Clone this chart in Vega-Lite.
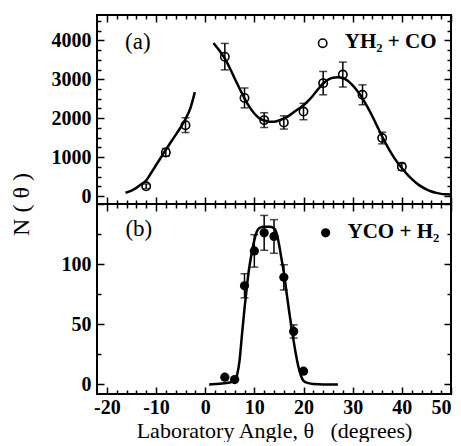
{
  "$schema": "https://vega.github.io/schema/vega-lite/v6.json",
  "padding": {"left": 8, "top": 13, "right": 0, "bottom": 0},
  "spacing": 0,
  "bounds": "flush",
  "datasets": {
    "curveA": [
      {"branch": "L", "angle": -16.2, "n": 85}, {"branch": "L", "angle": -15, "n": 140}, {"branch": "L", "angle": -14, "n": 210},
      {"branch": "L", "angle": -13, "n": 300}, {"branch": "L", "angle": -12, "n": 400}, {"branch": "L", "angle": -11, "n": 590},
      {"branch": "L", "angle": -10, "n": 790}, {"branch": "L", "angle": -9, "n": 990}, {"branch": "L", "angle": -8, "n": 1190},
      {"branch": "L", "angle": -7, "n": 1380}, {"branch": "L", "angle": -6, "n": 1570}, {"branch": "L", "angle": -5, "n": 1760},
      {"branch": "L", "angle": -4, "n": 1980}, {"branch": "L", "angle": -3, "n": 2260}, {"branch": "L", "angle": -2.1, "n": 2670},
      {"branch": "R", "angle": 1.7, "n": 3930}, {"branch": "R", "angle": 2, "n": 3880}, {"branch": "R", "angle": 3, "n": 3720},
      {"branch": "R", "angle": 4, "n": 3530}, {"branch": "R", "angle": 5, "n": 3290}, {"branch": "R", "angle": 6, "n": 3020},
      {"branch": "R", "angle": 7, "n": 2760}, {"branch": "R", "angle": 8, "n": 2510}, {"branch": "R", "angle": 9, "n": 2290},
      {"branch": "R", "angle": 10, "n": 2120}, {"branch": "R", "angle": 11, "n": 2000}, {"branch": "R", "angle": 12, "n": 1940},
      {"branch": "R", "angle": 13, "n": 1910}, {"branch": "R", "angle": 14, "n": 1910}, {"branch": "R", "angle": 15, "n": 1940},
      {"branch": "R", "angle": 16, "n": 1990}, {"branch": "R", "angle": 17, "n": 2060}, {"branch": "R", "angle": 18, "n": 2150},
      {"branch": "R", "angle": 19, "n": 2240}, {"branch": "R", "angle": 20, "n": 2330}, {"branch": "R", "angle": 21, "n": 2450},
      {"branch": "R", "angle": 22, "n": 2590}, {"branch": "R", "angle": 23, "n": 2750}, {"branch": "R", "angle": 24, "n": 2890},
      {"branch": "R", "angle": 25, "n": 2990}, {"branch": "R", "angle": 26, "n": 3040}, {"branch": "R", "angle": 27, "n": 3050},
      {"branch": "R", "angle": 28, "n": 3030}, {"branch": "R", "angle": 29, "n": 2960}, {"branch": "R", "angle": 30, "n": 2840},
      {"branch": "R", "angle": 31, "n": 2690}, {"branch": "R", "angle": 32, "n": 2510}, {"branch": "R", "angle": 33, "n": 2290},
      {"branch": "R", "angle": 34, "n": 2050}, {"branch": "R", "angle": 35, "n": 1790}, {"branch": "R", "angle": 36, "n": 1530},
      {"branch": "R", "angle": 37, "n": 1290}, {"branch": "R", "angle": 38, "n": 1070}, {"branch": "R", "angle": 39, "n": 880},
      {"branch": "R", "angle": 40, "n": 720}, {"branch": "R", "angle": 41, "n": 570}, {"branch": "R", "angle": 42, "n": 440},
      {"branch": "R", "angle": 43, "n": 330}, {"branch": "R", "angle": 44, "n": 240}, {"branch": "R", "angle": 45, "n": 170},
      {"branch": "R", "angle": 46, "n": 115}, {"branch": "R", "angle": 47, "n": 80}, {"branch": "R", "angle": 48, "n": 55},
      {"branch": "R", "angle": 49, "n": 45}, {"branch": "R", "angle": 50, "n": 40}
    ],
    "pointsA": [
      {"angle": -12, "n": 250, "err": 60}, {"angle": -8, "n": 1120, "err": 100}, {"angle": -4, "n": 1820, "err": 190},
      {"angle": 4, "n": 3580, "err": 340}, {"angle": 8, "n": 2520, "err": 256}, {"angle": 12, "n": 1950, "err": 190},
      {"angle": 16, "n": 1890, "err": 170}, {"angle": 20, "n": 2170, "err": 210}, {"angle": 24, "n": 2900, "err": 300},
      {"angle": 28, "n": 3120, "err": 320}, {"angle": 32, "n": 2600, "err": 256}, {"angle": 36, "n": 1490, "err": 150},
      {"angle": 40, "n": 750, "err": 90}
    ],
    "curveB": [
      {"angle": 0.8, "n": 0}, {"angle": 3, "n": 0.5}, {"angle": 5, "n": 1.5}, {"angle": 6, "n": 3}, {"angle": 6.5, "n": 8},
      {"angle": 7, "n": 20}, {"angle": 7.5, "n": 42}, {"angle": 8, "n": 63}, {"angle": 8.5, "n": 82}, {"angle": 9, "n": 98},
      {"angle": 9.5, "n": 110}, {"angle": 10, "n": 120}, {"angle": 10.5, "n": 127}, {"angle": 11, "n": 130}, {"angle": 12, "n": 131},
      {"angle": 13, "n": 131}, {"angle": 14, "n": 130}, {"angle": 14.5, "n": 126}, {"angle": 15, "n": 117}, {"angle": 15.5, "n": 105},
      {"angle": 16, "n": 93}, {"angle": 16.5, "n": 78}, {"angle": 17, "n": 63}, {"angle": 17.5, "n": 49}, {"angle": 18, "n": 36},
      {"angle": 18.5, "n": 24}, {"angle": 19, "n": 14}, {"angle": 19.5, "n": 7}, {"angle": 20, "n": 3}, {"angle": 21, "n": 1},
      {"angle": 22, "n": 0.3}, {"angle": 24, "n": 0}, {"angle": 27, "n": 0}
    ],
    "pointsB": [
      {"angle": 4, "n": 6, "err": 0}, {"angle": 6, "n": 4, "err": 0}, {"angle": 8, "n": 82, "err": 10},
      {"angle": 10, "n": 111, "err": 13.5}, {"angle": 12, "n": 126, "err": 14.5}, {"angle": 14, "n": 123, "err": 14},
      {"angle": 16, "n": 89, "err": 10.5}, {"angle": 18, "n": 44, "err": 5.5}, {"angle": 20, "n": 11, "err": 0}
    ],
    "note": [{"k": 1}]
  },
  "vconcat": [
    {
      "width": 354,
      "height": 189,
      "layer": [
        {
          "data": {"name": "curveA"},
          "mark": {"type": "line", "color": "black", "strokeWidth": 2.5, "interpolate": "monotone"},
          "encoding": {
            "x": {"field": "angle", "type": "quantitative", "scale": {"domain": [-22, 50], "nice": false, "zero": false}, "axis": null},
            "y": {"field": "n", "type": "quantitative", "scale": {"domain": [-205, 4650], "nice": false, "zero": false},
              "axis": {"orient": "left", "values": [0, 1000, 2000, 3000, 4000], "labelExpr": "'' + datum.value", "ticks": false, "domain": false, "labelPadding": 6, "minExtent": 50, "maxExtent": 50,
                "title": "N ( θ )", "titleFontSize": 24, "titlePadding": 14, "titleAnchor": "start", "titleAlign": "center"}},
            "detail": {"field": "branch"}
          }
        },
        {
          "data": {"name": "pointsA"},
          "mark": {"type": "errorbar", "color": "black", "ticks": {"size": 8, "thickness": 1.5, "color": "black"}, "rule": {"strokeWidth": 1.5}},
          "encoding": {
            "x": {"field": "angle", "type": "quantitative", "scale": {"domain": [-22, 50], "nice": false, "zero": false}, "axis": null},
            "y": {"field": "n", "type": "quantitative", "scale": {"domain": [-205, 4650], "nice": false, "zero": false}, "axis": null},
            "yError": {"field": "err"}
          }
        },
        {
          "data": {"name": "pointsA"},
          "mark": {"type": "point", "shape": "circle", "filled": false, "stroke": "black", "strokeWidth": 1.6, "size": 70, "opacity": 1},
          "encoding": {
            "x": {"field": "angle", "type": "quantitative", "scale": {"domain": [-22, 50], "nice": false, "zero": false},
              "axis": {"orient": "bottom", "values": [-20,-18,-16,-14,-12,-10,-8,-6,-4,-2,0,2,4,6,8,10,12,14,16,18,20,22,24,26,28,30,32,34,36,38,40,42,44,46,48,50],
                "labels": false, "domain": false, "title": null, "tickSize": {"condition": {"test": "datum.value % 10 === 0", "value": -7}, "value": -4}}},
            "y": {"field": "n", "type": "quantitative", "scale": {"domain": [-205, 4650], "nice": false, "zero": false},
              "axis": {"orient": "left", "values": [0,250,500,750,1000,1250,1500,1750,2000,2250,2500,2750,3000,3250,3500,3750,4000,4250,4500],
                "labels": false, "domain": false, "title": null, "tickSize": {"condition": {"test": "datum.value % 1000 === 0", "value": -7}, "value": -4}}}
          }
        },
        {
          "data": {"name": "note"},
          "mark": {"type": "text", "text": "(a)", "font": "Liberation Serif", "fontSize": 23, "align": "center", "baseline": "middle", "color": "black"},
          "encoding": {
            "x": {"datum": -13.7, "type": "quantitative", "scale": {"domain": [-22, 50], "nice": false, "zero": false},
              "axis": {"orient": "top", "values": [-20,-18,-16,-14,-12,-10,-8,-6,-4,-2,0,2,4,6,8,10,12,14,16,18,20,22,24,26,28,30,32,34,36,38,40,42,44,46,48,50],
                "labels": false, "domain": false, "title": null, "tickSize": {"condition": {"test": "datum.value % 10 === 0", "value": -7}, "value": -4}}},
            "y": {"datum": 3950, "type": "quantitative", "scale": {"domain": [-205, 4650], "nice": false, "zero": false},
              "axis": {"orient": "right", "values": [0,250,500,750,1000,1250,1500,1750,2000,2250,2500,2750,3000,3250,3500,3750,4000,4250,4500],
                "labels": false, "domain": false, "title": null, "tickSize": {"condition": {"test": "datum.value % 1000 === 0", "value": -7}, "value": -4}}}
          }
        },
        {
          "data": {"name": "note"},
          "mark": {"type": "point", "shape": "circle", "filled": false, "stroke": "black", "strokeWidth": 1.6, "size": 70, "opacity": 1},
          "encoding": {
            "x": {"datum": 23.9, "type": "quantitative", "scale": {"domain": [-22, 50], "nice": false, "zero": false}, "axis": null},
            "y": {"datum": 3925, "type": "quantitative", "scale": {"domain": [-205, 4650], "nice": false, "zero": false}, "axis": null}
          }
        },
        {
          "data": {"name": "note"},
          "mark": {"type": "text", "text": "YH₂ + CO", "font": "Liberation Serif", "fontWeight": "bold", "fontSize": 21, "align": "left", "baseline": "middle", "color": "black"},
          "encoding": {
            "x": {"datum": 28.4, "type": "quantitative", "scale": {"domain": [-22, 50], "nice": false, "zero": false}, "axis": null},
            "y": {"datum": 3950, "type": "quantitative", "scale": {"domain": [-205, 4650], "nice": false, "zero": false}, "axis": null}
          }
        }
      ],
      "resolve": {"axis": {"x": "independent", "y": "independent"}}
    },
    {
      "width": 354,
      "height": 190,
      "layer": [
        {
          "data": {"name": "curveB"},
          "mark": {"type": "line", "color": "black", "strokeWidth": 2.5, "interpolate": "monotone"},
          "encoding": {
            "x": {"field": "angle", "type": "quantitative", "scale": {"domain": [-22, 50], "nice": false, "zero": false},
              "axis": {"orient": "bottom", "values": [-20, -10, 0, 10, 20, 30, 40, 50], "labelExpr": "'' + datum.value", "ticks": false, "domain": false, "labelPadding": 3,
                "title": "Laboratory Angle,  θ \u00a0\u00a0(degrees)", "titleFontSize": 22, "titlePadding": 3}},
            "y": {"field": "n", "type": "quantitative", "scale": {"domain": [-8, 150], "nice": false, "zero": false},
              "axis": {"orient": "left", "values": [0, 50, 100], "labelExpr": "'' + datum.value", "ticks": false, "domain": false, "labelPadding": 6, "minExtent": 50, "maxExtent": 50, "title": null}}
          }
        },
        {
          "data": {"name": "pointsB"},
          "mark": {"type": "errorbar", "color": "black", "ticks": {"size": 8, "thickness": 1.5, "color": "black"}, "rule": {"strokeWidth": 1.5}},
          "encoding": {
            "x": {"field": "angle", "type": "quantitative", "scale": {"domain": [-22, 50], "nice": false, "zero": false}, "axis": null},
            "y": {"field": "n", "type": "quantitative", "scale": {"domain": [-8, 150], "nice": false, "zero": false}, "axis": null},
            "yError": {"field": "err"}
          }
        },
        {
          "data": {"name": "pointsB"},
          "mark": {"type": "point", "shape": "circle", "filled": true, "color": "black", "size": 85, "opacity": 1},
          "encoding": {
            "x": {"field": "angle", "type": "quantitative", "scale": {"domain": [-22, 50], "nice": false, "zero": false},
              "axis": {"orient": "bottom", "values": [-20,-18,-16,-14,-12,-10,-8,-6,-4,-2,0,2,4,6,8,10,12,14,16,18,20,22,24,26,28,30,32,34,36,38,40,42,44,46,48,50],
                "labels": false, "domain": false, "title": null, "tickSize": {"condition": {"test": "datum.value % 10 === 0", "value": -7}, "value": -4}}},
            "y": {"field": "n", "type": "quantitative", "scale": {"domain": [-8, 150], "nice": false, "zero": false},
              "axis": {"orient": "left", "values": [0, 25, 50, 75, 100, 125, 150],
                "labels": false, "domain": false, "title": null, "tickSize": {"condition": {"test": "datum.value % 50 === 0", "value": -7}, "value": -4}}}
          }
        },
        {
          "data": {"name": "note"},
          "mark": {"type": "text", "text": "(b)", "font": "Liberation Serif", "fontSize": 23, "align": "center", "baseline": "middle", "color": "black"},
          "encoding": {
            "x": {"datum": -13.5, "type": "quantitative", "scale": {"domain": [-22, 50], "nice": false, "zero": false},
              "axis": {"orient": "top", "values": [-20,-18,-16,-14,-12,-10,-8,-6,-4,-2,0,2,4,6,8,10,12,14,16,18,20,22,24,26,28,30,32,34,36,38,40,42,44,46,48,50],
                "labels": false, "domain": false, "title": null, "tickSize": {"condition": {"test": "datum.value % 10 === 0", "value": -7}, "value": -4}}},
            "y": {"datum": 129.5, "type": "quantitative", "scale": {"domain": [-8, 150], "nice": false, "zero": false},
              "axis": {"orient": "right", "values": [0, 25, 50, 75, 100, 125, 150],
                "labels": false, "domain": false, "title": null, "tickSize": {"condition": {"test": "datum.value % 50 === 0", "value": -7}, "value": -4}}}
          }
        },
        {
          "data": {"name": "note"},
          "mark": {"type": "point", "shape": "circle", "filled": true, "color": "black", "size": 85, "opacity": 1},
          "encoding": {
            "x": {"datum": 24.5, "type": "quantitative", "scale": {"domain": [-22, 50], "nice": false, "zero": false}, "axis": null},
            "y": {"datum": 126, "type": "quantitative", "scale": {"domain": [-8, 150], "nice": false, "zero": false}, "axis": null}
          }
        },
        {
          "data": {"name": "note"},
          "mark": {"type": "text", "text": "YCO + H₂", "font": "Liberation Serif", "fontWeight": "bold", "fontSize": 21, "align": "left", "baseline": "middle", "color": "black"},
          "encoding": {
            "x": {"datum": 28.95, "type": "quantitative", "scale": {"domain": [-22, 50], "nice": false, "zero": false}, "axis": null},
            "y": {"datum": 127, "type": "quantitative", "scale": {"domain": [-8, 150], "nice": false, "zero": false}, "axis": null}
          }
        }
      ],
      "resolve": {"axis": {"x": "independent", "y": "independent"}}
    }
  ],
  "config": {
    "view": {"stroke": "black", "strokeWidth": 2},
    "axis": {"labelFont": "Liberation Serif", "labelFontWeight": "bold", "labelFontSize": 20, "labelColor": "black",
      "titleFont": "Liberation Serif", "titleFontWeight": "normal", "titleColor": "black", "grid": false, "domain": false,
      "tickColor": "black", "tickWidth": 1.5}
  }
}
